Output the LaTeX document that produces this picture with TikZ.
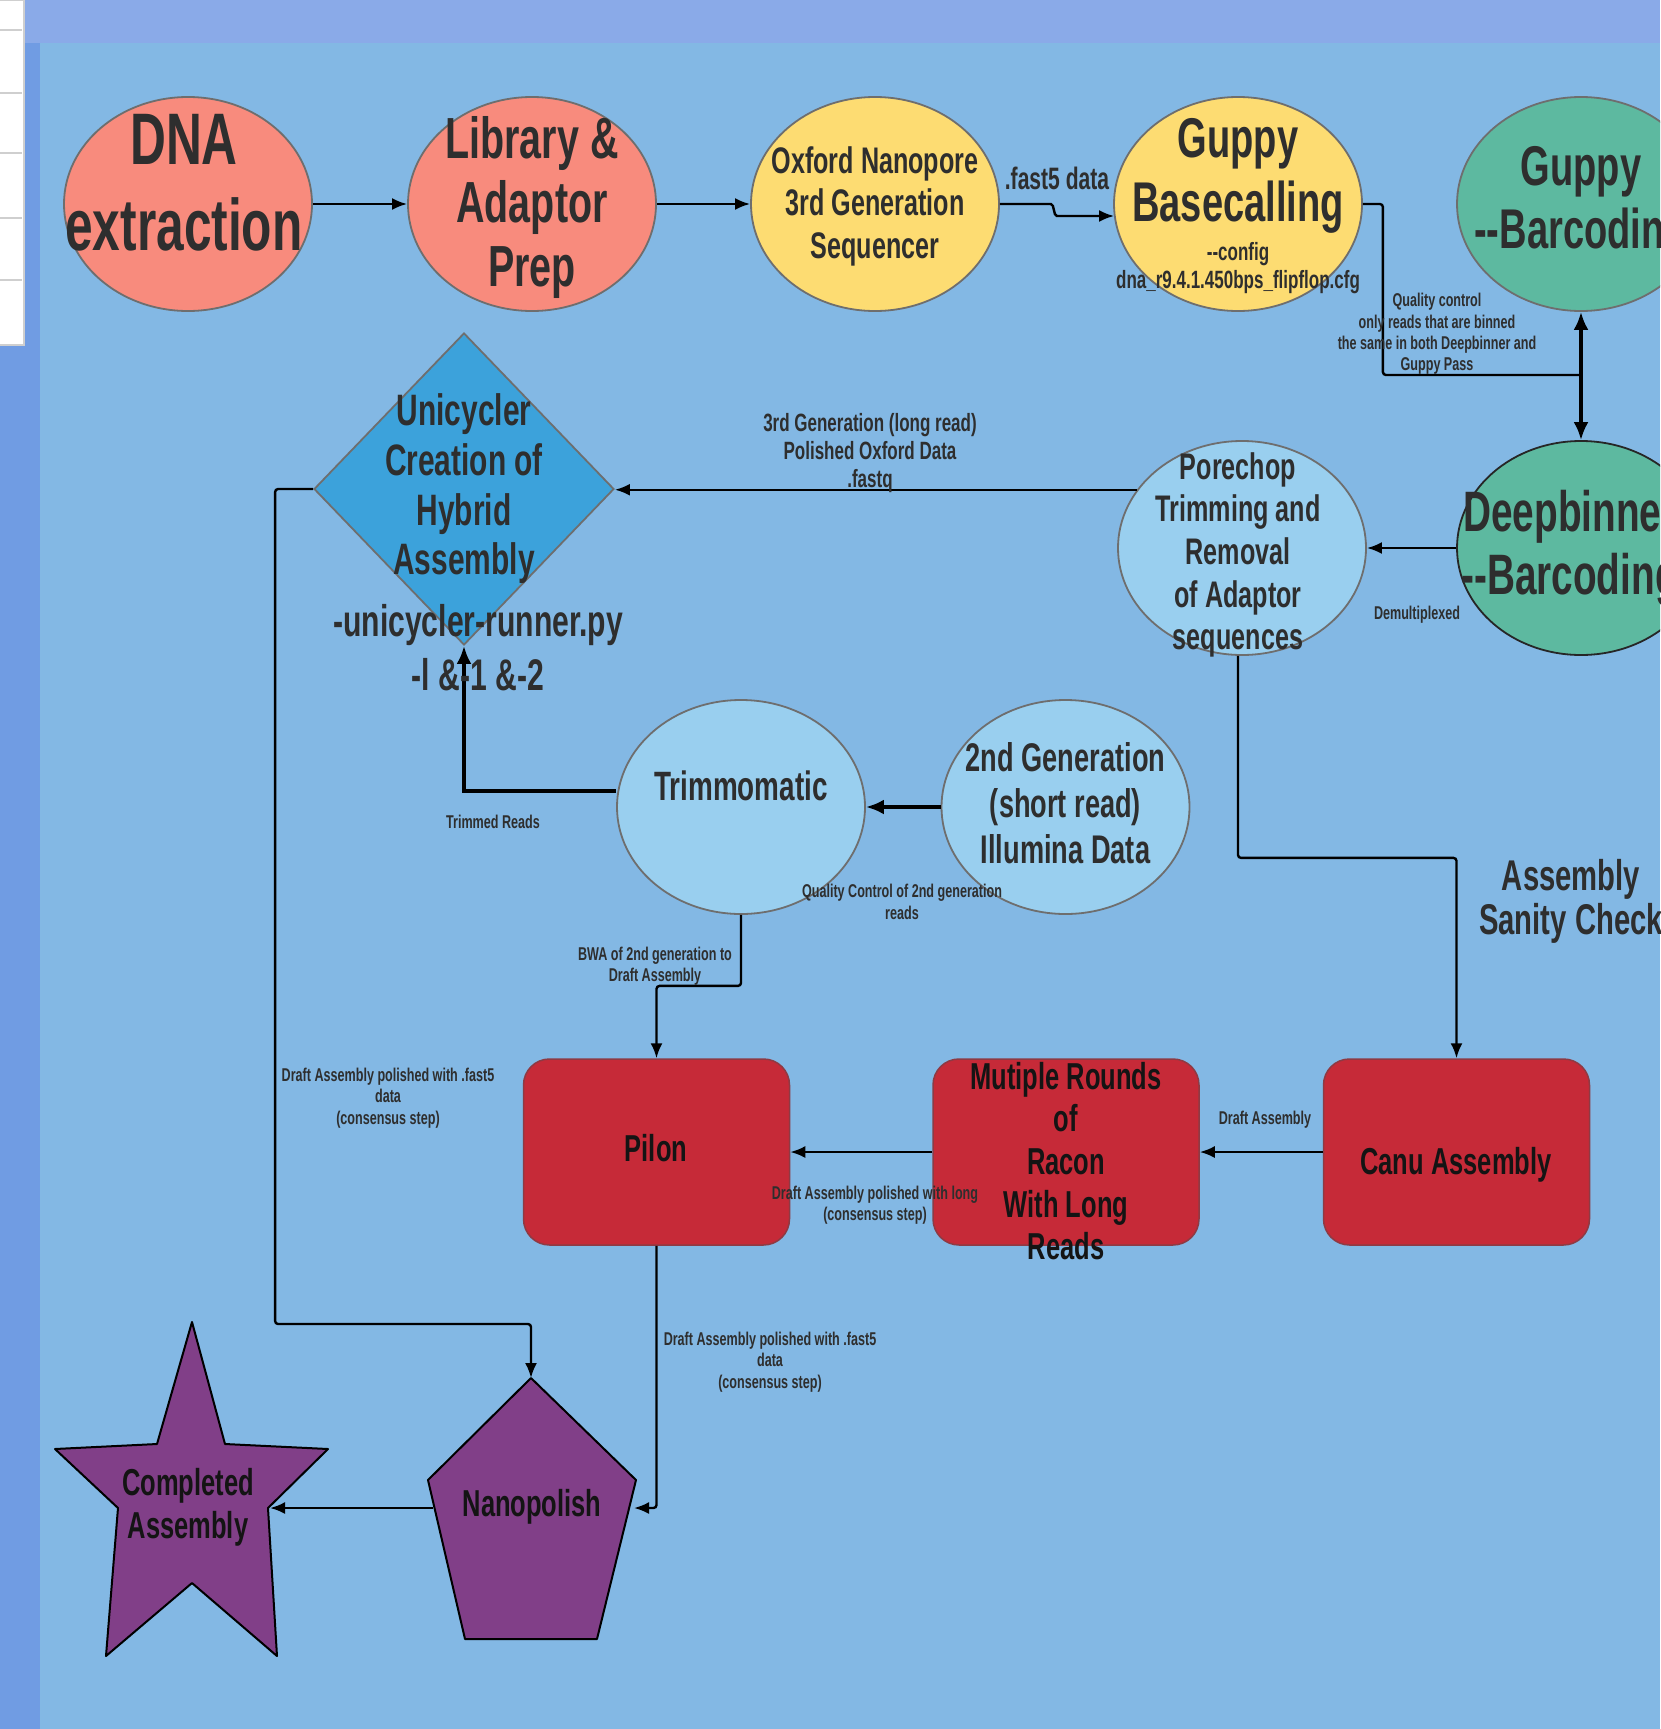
\documentclass[tikz,border=0pt]{standalone}
\usepackage{fontspec}
\newfontfamily\nf{Liberation Sans}[FakeStretch=0.68]
\usetikzlibrary{arrows.meta,shapes.geometric,calc}
\definecolor{bandc}{HTML}{8AAAE8}
\definecolor{bandl}{HTML}{709CE3}
\definecolor{panelc}{HTML}{83B8E4}
\definecolor{salmonc}{HTML}{F88B7D}
\definecolor{yellowc}{HTML}{FDDC72}
\definecolor{tealc}{HTML}{5DB9A0}
\definecolor{lbluec}{HTML}{99CFEF}
\definecolor{diac}{HTML}{3CA2DB}
\definecolor{redc}{HTML}{C62A38}
\definecolor{redl}{HTML}{8E3A44}
\definecolor{purpc}{HTML}{813F88}
\definecolor{tc}{HTML}{2E2E2E}
\definecolor{tk}{HTML}{141414}
\definecolor{edgec}{HTML}{6E6E6E}
\definecolor{tabl}{HTML}{CFCFCF}
\newcommand\fs[2]{\fontsize{#1pt}{#2pt}\selectfont}
\newcommand\dd{-\kern0pt-}
\begin{document}
\begin{tikzpicture}[x=1pt,y=-1pt,
 ell/.style={ellipse, draw=edgec, line width=1.8pt, inner sep=0pt, minimum width=248pt, minimum height=214pt},
 rbox/.style={rectangle, rounded corners=26pt, draw=redl, line width=1.5pt, fill=redc, minimum width=266pt, minimum height=186pt, inner sep=0pt},
 txt/.style={text=tc, align=center, inner sep=0pt},
 con/.style={draw=black, line width=2.4pt, rounded corners=3pt, -{Latex[length=15pt,width=12pt]}},
 plainln/.style={draw=black, line width=2.4pt, rounded corners=3pt},
 thk/.style={draw=black, line width=4.5pt, -{Latex[length=18pt,width=15pt]}},
 purp/.style={fill=purpc, draw=black, line width=2pt, line join=round}]
\useasboundingbox (0,0) rectangle (1660,1729);
\clip (0,0) rectangle (1660,1729);
% background
\fill[bandc] (0,0) rectangle (1660,1729);
\fill[bandl] (0,43) rectangle (40,1729);
\fill[panelc] (40,43) rectangle (1660,1729);
% table fragment
\fill[white] (0,0) rectangle (24,345);
\draw[tabl, line width=2.5pt] (-3,0) -- (24,0) -- (24,345) -- (-3,345);
\foreach \yy in {30,93,153,218,280} \draw[tabl, line width=2pt] (-3,\yy) -- (22,\yy);
% shapes
\node[ell, fill=salmonc] (dna) at (188,204) {};
\node[ell, fill=salmonc] (lib) at (532,204) {};
\node[ell, fill=yellowc] (ox) at (875,204) {};
\node[ell, fill=yellowc] (gb) at (1238,204) {};
\node[ell, fill=tealc] (gbar) at (1581,204) {};
\node[ell, fill=tealc, draw=black!85] (deep) at (1581,548) {};
\node[ell, fill=lbluec] (pore) at (1242,548) {};
\node[diamond, draw=edgec, line width=1.8pt, fill=diac, inner sep=0pt, minimum width=300pt, minimum height=312pt] (uni) at (464,489) {};
\node[ell, fill=lbluec] (trim) at (741,807) {};
\node[ell, fill=lbluec] (illu) at (1065.5,807) {};
\node[rbox] (pilon) at (656.5,1152) {};
\node[rbox] (racon) at (1066,1152) {};
\node[rbox] (canu) at (1456.5,1152) {};
% pentagon
\coordinate (nptop) at (531,1378);
\coordinate (npr) at (636,1480);
\coordinate (npbr) at (597,1639);
\coordinate (npbl) at (465,1639);
\coordinate (npl) at (428,1480);
\draw[purp] (nptop) -- (npr) -- (npbr) -- (npbl) -- (npl) -- cycle;
\coordinate (npin) at (634,1508);
\coordinate (npout) at (433,1508);
% star
\coordinate (sttop) at (192,1322);
\coordinate (stiur) at (225,1444);
\coordinate (str) at (328,1449);
\coordinate (stilr) at (268,1508);
\coordinate (stbr) at (277,1656);
\coordinate (stib) at (192,1583);
\coordinate (stbl) at (106,1656);
\coordinate (still) at (118,1508);
\coordinate (stl) at (55,1449);
\coordinate (stiul) at (157,1444);
\draw[purp] (sttop) -- (stiur) -- (str) -- (stilr) -- (stbr) -- (stib) -- (stbl) -- (still) -- (stl) -- (stiul) -- cycle;
\coordinate (starin) at (270,1508);
\coordinate (qcj) at (1581,375);
\coordinate (poreout) at ($(pore.south)+(-4,0)$);
% connectors
\draw[con] (dna.east) -- (lib.west);
\draw[con] (lib.east) -- (ox.west);
\draw[con] (ox.east) -- ++(48,0) to[out=0,in=180] ++(12,12) -- ($(gb.west)+(1,12)$);
\draw[plainln] (gb.east) -- ++(20,0) |- (qcj);
\draw[thk, line width=3.5pt] (qcj) -- (gbar.south);
\draw[thk, line width=3.5pt] (qcj) -- (deep.north);
\draw[con] (deep.west) -- (pore.east);
\draw[con] (pore.151) -- (pore.151 -| uni.east);
\draw[con] (poreout) -- ++(0,202) -| (canu.north);
\draw[thk] (illu.west) -- (trim.east);
\draw[thk] ($(trim.west)+(0,-16)$) -| (uni.south);
\draw[con] (trim.south) -- ++(0,71) -| (pilon.north);
\draw[con] (canu.west) -- (racon.east);
\draw[con] (racon.west) -- (pilon.east);
\draw[con] (pilon.south) |- (npin);
\draw[con] (uni.west) -- ++(-38,0) |- ($(nptop)+(0,-54)$) -- (nptop);
\draw[con] (npout) -- (starin);
% node texts
\node[txt, font=\nf\bfseries\fs{73}{86}] (t-dna) at (184,183) {DNA\\extraction};
\node[txt, font=\nf\bfseries\fs{58}{64}] (t-lib) at (532,208) {Library \&\\Adaptor\\Prep};
\node[txt, font=\nf\bfseries\fs{37}{42.5}] (t-ox) at (875,206) {Oxford Nanopore\\3rd Generation\\Sequencer};
\node[txt, font=\nf\bfseries\fs{56}{64}] (t-gb) at (1238,176) {Guppy\\Basecalling};
\node[txt, font=\nf\bfseries\fs{25}{27.6}] (t-cfg) at (1238,268) {\dd config\\dna\_r9.4.1.450bps\_flipflop.cfg};
\node[txt, font=\nf\bfseries\fs{56}{63}] (t-gbar) at (1581,203) {Guppy\\\dd Barcoding};
\node[txt, font=\nf\bfseries\fs{57}{63}] (t-deep) at (1570,548) {Deepbinner\\\dd Barcoding};
\node[txt, font=\nf\bfseries\fs{37}{42.7}] (t-pore) at (1238,555) {Porechop\\Trimming and\\Removal\\of Adaptor\\sequences};
\node[txt, font=\nf\bfseries\fs{44}{49.6}] (t-uni) at (464,489) {Unicycler\\Creation of\\Hybrid\\Assembly};
\node[txt, font=\nf\bfseries\fs{44.3}{54}] (t-run) at (478,648) {-unicycler-runner.py\\-l \&-1 \&-2};
\node[txt, font=\nf\bfseries\fs{41}{47}] (t-trim) at (741,786) {Trimmomatic};
\node[txt, font=\nf\bfseries\fs{40}{45.8}] (t-illu) at (1065.5,803) {2nd Generation\\(short read)\\Illumina Data};
\node[txt, text=tk, font=\nf\bfseries\fs{37.5}{43}] (t-pilon) at (656,1148) {Pilon};
\node[txt, text=tk, font=\nf\bfseries\fs{37.5}{42.7}] (t-racon) at (1066,1161) {Mutiple Rounds\\of\\Racon\\With Long\\Reads};
\node[txt, text=tk, font=\nf\bfseries\fs{37.5}{43}] (t-canu) at (1456,1165) {Canu Assembly};
\node[txt, text=tk, font=\nf\bfseries\fs{37.5}{43}] (t-np) at (532,1507) {Nanopolish};
\node[txt, text=tk, font=\nf\bfseries\fs{37.5}{43}] (t-comp) at (188,1507) {Completed\\Assembly};
\node[txt, font=\nf\bfseries\fs{43}{44}] (t-sanity) at (1571,901) {Assembly\\Sanity Check};
% connector labels
\node[txt, font=\nf\bfseries\fs{31}{34}] (l-fast5) at (1057,178) {.fast5 data};
\node[txt, font=\nf\bfseries\fs{18.5}{21.3}] (l-qc) at (1437,334) {Quality control\\only reads that are binned\\the same in both Deepbinner and\\Guppy Pass};
\node[txt, font=\nf\bfseries\fs{18.5}{21.3}] (l-demux) at (1417,615) {Demultiplexed};
\node[txt, font=\nf\bfseries\fs{25}{28}] (l-3rd) at (870,453) {3rd Generation (long read)\\Polished Oxford Data\\.fastq};
\node[txt, font=\nf\bfseries\fs{18.5}{21.3}] (l-trimmed) at (493,822) {Trimmed Reads};
\node[txt, font=\nf\bfseries\fs{18.5}{21.3}] (l-qc2) at (902,902) {Quality Control of 2nd generation\\reads};
\node[txt, font=\nf\bfseries\fs{18.5}{21.3}] (l-bwa) at (655,966.5) {BWA of 2nd generation to\\Draft Assembly};
\node[txt, font=\nf\bfseries\fs{18.5}{21.3}] (l-draft) at (1265,1120) {Draft Assembly};
\node[txt, font=\nf\bfseries\fs{18.5}{21.3}] (l-long) at (875,1205) {Draft Assembly polished with long\\(consensus step)};
\node[txt, font=\nf\bfseries\fs{18.5}{21.3}] (l-pil) at (770,1362) {Draft Assembly polished with .fast5\\data\\(consensus step)};
\node[txt, font=\nf\bfseries\fs{18.5}{21.3}] (l-uni) at (388,1098) {Draft Assembly polished with .fast5\\data\\(consensus step)};
\end{tikzpicture}
\end{document}
